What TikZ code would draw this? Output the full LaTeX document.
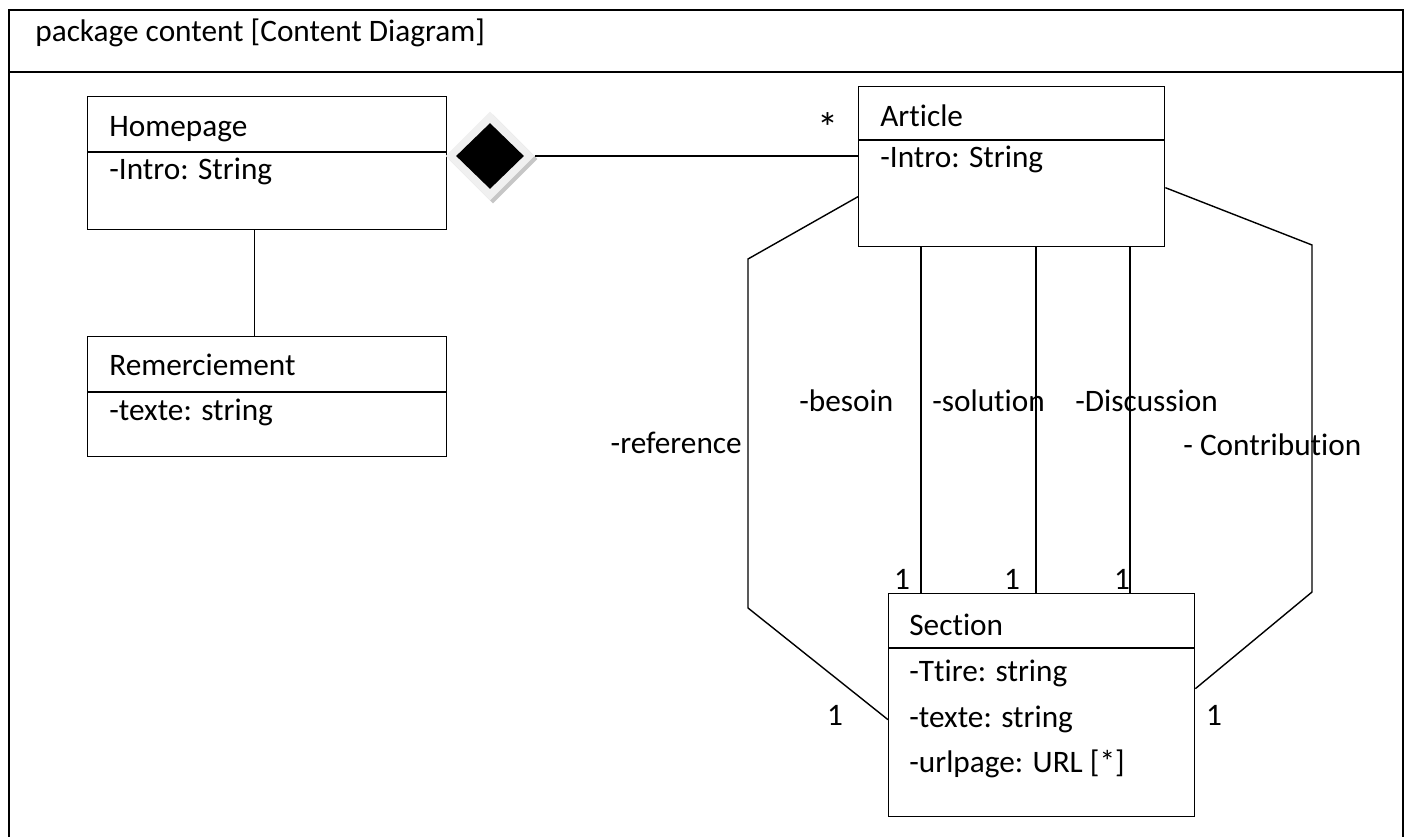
\documentclass[tikz,border=0pt]{standalone}
\usepackage{fontspec}
\setmainfont{Carlito}[Ligatures=NoCommon]
\usetikzlibrary{shapes.geometric}

\begin{document}
\begin{tikzpicture}[x=0.02cm,y=-0.02cm,
    classbox/.style={draw, line width=0.8pt, rectangle, anchor=north west, inner sep=0pt},
    txt/.style={anchor=base west, inner sep=0pt, font=\fontsize{17.8}{20}\selectfont},
    mult/.style={anchor=base, inner sep=0pt, font=\fontsize{17.8}{20}\selectfont},
    conn/.style={line width=0.8pt}]

\useasboundingbox (0,0) rectangle (1408,837);

\begin{scope}
        % cadre du paquet
        \coordinate (A) at (9,837);
        \coordinate (B) at (9,10);
        \coordinate (C) at (1403,10);
        \coordinate (D) at (1403,837);
        \coordinate (E) at (9,72);
        \coordinate (F) at (1403,72);

        \draw[conn] (A) -- (B) -- (C) -- (D);
        \draw[conn] (E) -- (F);
        \node[txt] (titre) at (35,42) {package content [Content Diagram]};

        % Classes
        \node[classbox, minimum width=7.18cm, minimum height=2.66cm] (home) at (87,96) {};
        \node[classbox, minimum width=7.18cm, minimum height=2.4cm] (rem) at (87,336) {};
        \node[classbox, minimum width=6.12cm, minimum height=3.2cm] (art) at (858,86) {};
        \node[classbox, minimum width=6.12cm, minimum height=4.46cm] (sec) at (888,593) {};

        \draw[conn] ([yshift=-1.12cm]home.north west) -- ([yshift=-1.12cm]home.north east);
        \draw[conn] ([yshift=-1.12cm]rem.north west) -- ([yshift=-1.12cm]rem.north east);
        \draw[conn] ([yshift=-1.08cm]art.north west) -- ([yshift=-1.08cm]art.north east);
        \draw[conn] ([yshift=-1.1cm]sec.north west) -- ([yshift=-1.1cm]sec.north east);

        \node[txt] (homeN) at (109,137) {Homepage};
        \node[txt] (homeA) at (109,180) {-Intro: String};
        \node[txt] (remN) at (109,376) {Remerciement};
        \node[txt] (remA) at (109,420) {-texte: string};
        \node[txt] (artN) at (880,127) {Article};
        \node[txt] (artA) at (880,168) {-Intro: String};
        \node[txt] (secN) at (909,635) {Section};
        \node[txt] (secA) at (909,681) {-Ttire: string};
        \node[txt] (secB) at (909,727) {-texte: string};
        \node[txt] (secC) at (909,772) {-urlpage: URL [*]};

        % Homepage -- Remerciement
        \draw[conn] ([xshift=-0.25cm]home.south) -- ([xshift=-0.25cm]rem.north);

        % composition Homepage <>-- Article
        \node[diamond, fill=gray!45, inner sep=0pt, minimum width=1.78cm, minimum height=1.78cm] (ombre) at (493,159) {};
        \node[diamond, fill=gray!12, inner sep=0pt, minimum width=1.78cm, minimum height=1.78cm] (halo) at (490,156) {};
        \draw[conn] (halo.east) -- (art.west |- halo.east);
        \node[diamond, fill=black, inner sep=0pt, minimum width=1.36cm, minimum height=1.32cm] (comp) at (490,156) {};
        \node[mult, anchor=center, font=\fontsize{24}{26}\selectfont] (etoile) at (828,128) {*};

        % Article -- Section
        \coordinate (G) at (921,0);
        \coordinate (H) at (1036,0);
        \coordinate (I) at (1130,0);
        \draw[conn] (G |- art.south) -- (G |- sec.north);
        \draw[conn] (H |- art.south) -- (H |- sec.north);
        \draw[conn] (I |- art.south) -- (I |- sec.north);

        \coordinate (J) at (748,259);
        \coordinate (K) at (748,608);
        \coordinate (L) at (1312,245);
        \coordinate (M) at (1312,592);
        \draw[conn] ([yshift=-0.6cm]art.west) -- (J) -- (K) -- ([yshift=-0.29cm]sec.west);
        \draw[conn] ([yshift=-0.42cm]art.east) -- (L) -- (M) -- ([yshift=0.33cm]sec.east);

        % roles et multiplicites
        \node[txt, anchor=base east] (reference) at (742,453) {-reference};
        \node[txt] (besoin) at (799,411) {-besoin};
        \node[txt] (solution) at (932,411) {-solution};
        \node[txt] (discussion) at (1075,411) {-Discussion};
        \node[txt] (contribution) at (1183,455) {- Contribution};

        \node[mult] (m1) at (902,589) {1};
        \node[mult] (m2) at (1012,589) {1};
        \node[mult] (m3) at (1122,589) {1};
        \node[mult] (m4) at (835,725) {1};
        \node[mult] (m5) at (1214,725) {1};
\end{scope}

\end{tikzpicture}
\end{document}
